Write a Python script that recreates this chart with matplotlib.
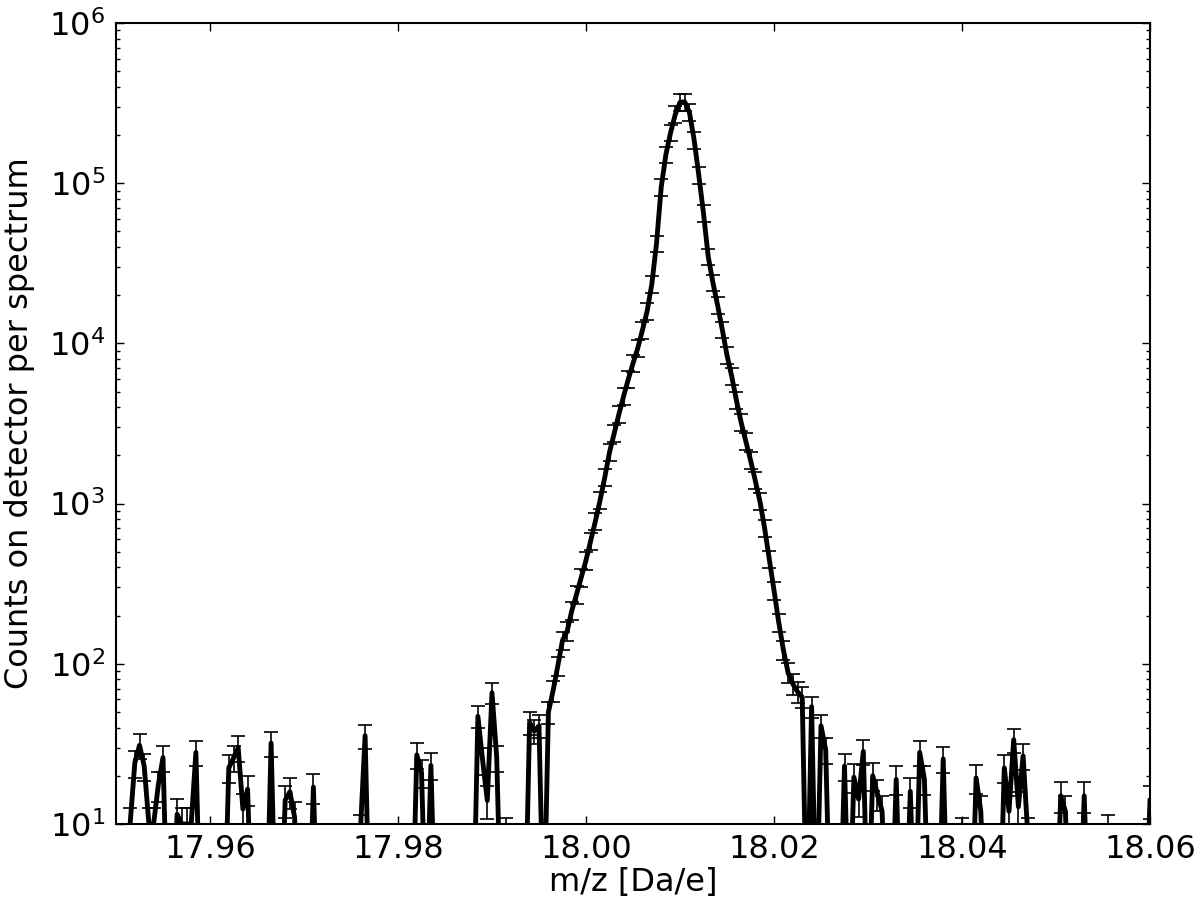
import numpy as np
import matplotlib
matplotlib.use('Agg')
import matplotlib.pyplot as plt
from matplotlib.ticker import NullLocator, LogLocator

# spectrum: bins of 0.0005 Da starting at 17.95 Da (0 = empty bin)
mz_start = 17.95
bin_width = 0.0005
counts = [
    0, 0, 0, 10, 24, 31, 23, 10, 10, 17.5,
    26, 0, 0, 11.5, 10, 10, 10, 28, 0, 0,
    0, 0, 0, 0, 22.4, 25.8, 29.9, 12.4, 16.5, 0,
    0, 0, 0, 32, 0, 0, 14.1, 15.9, 11, 0,
    0, 0, 17, 0, 0, 0, 0, 0, 0, 0,
    0, 0, 9, 35.6, 0, 0, 0, 0, 0, 0,
    0, 0, 0, 0, 27, 21, 0, 23.2, 0, 0,
    0, 0, 0, 0, 0, 0, 0, 47, 25, 14,
    66, 26, 0, 8.5, 0, 0, 0, 0, 43, 38,
    41, 0, 50, 68, 97, 140, 160, 216, 272, 347,
    443, 586, 777, 1050, 1460, 2090, 2750, 3610, 4680, 5970,
    7510, 9310, 12080, 15850, 23380, 42000, 94200, 151000, 207000, 269000,
    320000, 322000, 277000, 187000, 112000, 64800, 34900, 24000, 17300, 12200,
    8430, 6240, 4420, 3220, 2450, 1870, 1400, 1035, 703, 450,
    288, 182, 122, 88, 75, 67, 62, 0, 54, 0,
    41, 29, 0, 0, 0, 23, 0, 19.6, 14.3, 28.4,
    0, 20, 15.5, 12, 0, 0, 19, 0, 0, 16,
    0, 28, 19, 0, 0, 0, 25.5, 0, 0, 0,
    8.5, 0, 0, 19.4, 12, 0, 0, 0, 0, 22.4,
    12, 33.6, 12.8, 26.6, 8.5, 0, 0, 0, 0, 0,
    0, 15, 12, 0, 0, 0, 15, 0, 0, 0,
    0, 9, 0, 0, 0, 0, 0, 0, 0, 0,
    14,
]
empty_level = 2.0   # level drawn for empty bins (below the axis)
xticks = [17.96, 17.98, 18.00, 18.02, 18.04, 18.06]

counts = np.array(counts, dtype=float)
counts = np.where(counts > 0, counts, empty_level)
mz = mz_start + bin_width * np.arange(len(counts))
# error model: counting term plus relative term
yerr = np.sqrt(0.53 * counts + (0.12 * counts) ** 2)

plt.rcParams['font.family'] = 'DejaVu Sans'
fig = plt.figure(figsize=(12, 9.07), dpi=100)
ax = fig.add_axes([116 / 1200, 1 - 824 / 907, (1150 - 116) / 1200, (824 - 23) / 907])

ax.errorbar(mz, counts, yerr=yerr, fmt='-', color='k', lw=3.5,
            ecolor='k', elinewidth=1.2, capsize=5, capthick=1.2)

ax.set_yscale('log')
ax.set_ylim(10, 1e6)
ax.set_xlim(17.95, 18.06)
ax.set_xticks(xticks)
ax.set_xticklabels(['%.2f' % t for t in xticks])
ax.xaxis.set_minor_locator(NullLocator())
ax.yaxis.set_major_locator(LogLocator(base=10, numticks=10))

ax.tick_params(which='both', direction='in', top=True, right=True, width=1)
ax.tick_params(which='major', length=6)
ax.tick_params(which='minor', length=3)
ax.tick_params(axis='x', labelsize=23, pad=7)
ax.tick_params(axis='y', labelsize=23, pad=8)
for sp in ax.spines.values():
    sp.set_linewidth(1.5)

ax.set_xlabel('m/z [Da/e]', fontsize=23, labelpad=2)
ax.set_ylabel('Counts on detector per spectrum', fontsize=23, labelpad=10)

fig.savefig('out.png', dpi=100)
